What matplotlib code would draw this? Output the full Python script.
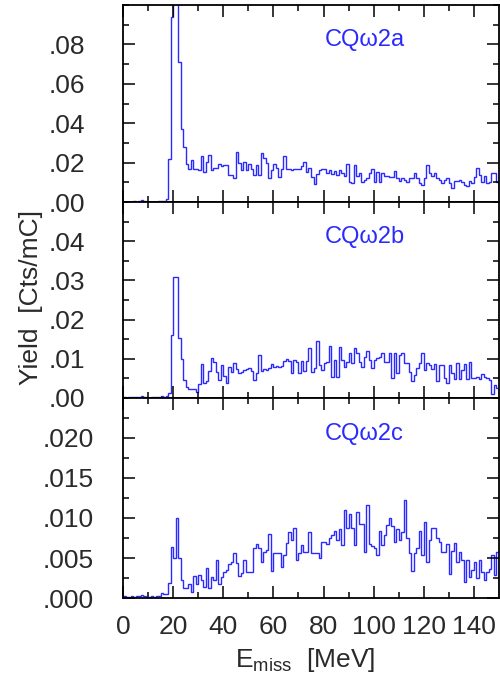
import numpy as np
import matplotlib
matplotlib.use('Agg')
import matplotlib.pyplot as plt

plt.rcParams['font.family'] = ['Liberation Sans', 'DejaVu Sans']
plt.rcParams['mathtext.fontset'] = 'custom'
plt.rcParams['mathtext.rm'] = 'Liberation Sans'

# 1 MeV bins from 0 to 150 MeV
edges = np.arange(0, 151, 1)

yield_a = [
    0.0002, 0.0001, 0.0002, 0.0002, 0.0003, 0.0002, 0.0004, 0.0008, 0.0003, 0.0002,
    0.0002, 0.0001, 0.0002, 0.0002, 0.0003, 0.0004, 0.0005, 0.0013, 0.0220, 0.0940,
    0.1600, 0.1300, 0.0710, 0.0370, 0.0280, 0.0191, 0.0166, 0.0213, 0.0166, 0.0166,
    0.0162, 0.0235, 0.0154, 0.0201, 0.0239, 0.0162, 0.0174, 0.0174, 0.0193, 0.0183,
    0.0188, 0.0188, 0.0137, 0.0137, 0.0124, 0.0254, 0.0196, 0.0162, 0.0205, 0.0162,
    0.0191, 0.0166, 0.0137, 0.0188, 0.0137, 0.0250, 0.0222, 0.0196, 0.0124, 0.0162,
    0.0191, 0.0174, 0.0129, 0.0166, 0.0234, 0.0166, 0.0166, 0.0162, 0.0166, 0.0166,
    0.0166, 0.0183, 0.0205, 0.0154, 0.0174, 0.0129, 0.0090, 0.0141, 0.0162, 0.0166,
    0.0166, 0.0146, 0.0162, 0.0141, 0.0159, 0.0137, 0.0162, 0.0149, 0.0132, 0.0191,
    0.0103, 0.0095, 0.0186, 0.0132, 0.0146, 0.0103, 0.0112, 0.0124, 0.0146, 0.0168,
    0.0103, 0.0152, 0.0103, 0.0149, 0.0132, 0.0132, 0.0129, 0.0129, 0.0159, 0.0120,
    0.0107, 0.0120, 0.0112, 0.0103, 0.0124, 0.0124, 0.0149, 0.0124, 0.0095, 0.0086,
    0.0124, 0.0189, 0.0149, 0.0132, 0.0146, 0.0120, 0.0112, 0.0095, 0.0112, 0.0124,
    0.0095, 0.0069, 0.0107, 0.0107, 0.0112, 0.0103, 0.0086, 0.0081, 0.0107, 0.0098,
    0.0129, 0.0174, 0.0137, 0.0103, 0.0132, 0.0095, 0.0103, 0.0146, 0.0146, 0.0103,
]

yield_b = [
    0.0002, 0.0001, 0.0002, 0.0002, 0.0002, 0.0002, 0.0003, 0.0006, 0.0003, 0.0002,
    0.0001, 0.0002, 0.0002, 0.0002, 0.0003, 0.0004, 0.0003, 0.0006, 0.0012, 0.0161,
    0.0308, 0.0308, 0.0152, 0.0099, 0.0046, 0.0027, 0.0024, 0.0024, 0.0022, 0.0016,
    0.0036, 0.0086, 0.0037, 0.0043, 0.0070, 0.0103, 0.0093, 0.0067, 0.0046, 0.0084,
    0.0057, 0.0039, 0.0078, 0.0067, 0.0090, 0.0073, 0.0063, 0.0067, 0.0071, 0.0073,
    0.0076, 0.0069, 0.0046, 0.0065, 0.0110, 0.0070, 0.0073, 0.0071, 0.0076, 0.0087,
    0.0078, 0.0082, 0.0080, 0.0082, 0.0095, 0.0099, 0.0095, 0.0065, 0.0097, 0.0093,
    0.0065, 0.0095, 0.0069, 0.0095, 0.0127, 0.0067, 0.0076, 0.0145, 0.0084, 0.0071,
    0.0088, 0.0093, 0.0133, 0.0054, 0.0097, 0.0054, 0.0129, 0.0097, 0.0080, 0.0093,
    0.0114, 0.0090, 0.0127, 0.0114, 0.0093, 0.0078, 0.0105, 0.0120, 0.0097, 0.0076,
    0.0097, 0.0101, 0.0105, 0.0114, 0.0093, 0.0093, 0.0114, 0.0050, 0.0114, 0.0063,
    0.0110, 0.0116, 0.0090, 0.0090, 0.0067, 0.0044, 0.0059, 0.0076, 0.0090, 0.0116,
    0.0071, 0.0088, 0.0084, 0.0073, 0.0086, 0.0044, 0.0084, 0.0084, 0.0050, 0.0039,
    0.0084, 0.0065, 0.0048, 0.0088, 0.0048, 0.0071, 0.0087, 0.0048, 0.0093, 0.0050,
    0.0050, 0.0053, 0.0048, 0.0061, 0.0053, 0.0050, 0.0046, 0.0010, 0.0033, 0.0025,
]

yield_c = [
    0.0002, 0.0001, 0.0001, 0.0002, 0.0001, 0.0002, 0.0002, 0.0004, 0.0002, 0.0001,
    0.0001, 0.0002, 0.0001, 0.0002, 0.0002, 0.0006, 0.0005, 0.0005, 0.0019, 0.0064,
    0.0050, 0.0100, 0.0050, 0.0023, 0.0012, 0.0012, 0.0018, 0.0007, 0.0027, 0.0018,
    0.0029, 0.0023, 0.0014, 0.0037, 0.0012, 0.0026, 0.0023, 0.0047, 0.0018, 0.0026,
    0.0032, 0.0035, 0.0043, 0.0045, 0.0056, 0.0044, 0.0028, 0.0031, 0.0047, 0.0032,
    0.0032, 0.0032, 0.0062, 0.0068, 0.0063, 0.0045, 0.0057, 0.0060, 0.0080, 0.0034,
    0.0056, 0.0056, 0.0056, 0.0039, 0.0054, 0.0069, 0.0083, 0.0073, 0.0088, 0.0048,
    0.0056, 0.0066, 0.0058, 0.0057, 0.0083, 0.0056, 0.0056, 0.0056, 0.0050, 0.0070,
    0.0070, 0.0068, 0.0075, 0.0079, 0.0084, 0.0073, 0.0086, 0.0066, 0.0110, 0.0088,
    0.0105, 0.0088, 0.0066, 0.0107, 0.0093, 0.0093, 0.0058, 0.0116, 0.0068, 0.0065,
    0.0062, 0.0054, 0.0084, 0.0066, 0.0079, 0.0091, 0.0100, 0.0090, 0.0070, 0.0086,
    0.0072, 0.0083, 0.0122, 0.0075, 0.0056, 0.0034, 0.0056, 0.0063, 0.0084, 0.0054,
    0.0095, 0.0045, 0.0073, 0.0087, 0.0087, 0.0075, 0.0070, 0.0058, 0.0058, 0.0068,
    0.0030, 0.0059, 0.0069, 0.0045, 0.0058, 0.0047, 0.0020, 0.0048, 0.0026, 0.0035,
    0.0045, 0.0025, 0.0047, 0.0033, 0.0023, 0.0033, 0.0036, 0.0054, 0.0029, 0.0058,
]

labels = ['CQ\u03c92a', 'CQ\u03c92b', 'CQ\u03c92c']
ymax = [0.1, 0.05, 0.025]
ymajor = [[0, 0.02, 0.04, 0.06, 0.08], [0, 0.01, 0.02, 0.03, 0.04],
          [0, 0.005, 0.010, 0.015, 0.020]]
ylabels = [['.00', '.02', '.04', '.06', '.08'], ['.00', '.01', '.02', '.03', '.04'],
           ['.000', '.005', '.010', '.015', '.020']]
yminor_step = [0.01, 0.005, 0.0025]
xticks = [0, 20, 40, 60, 80, 100, 120, 140]

data = [yield_a, yield_b, yield_c]
# panel extents in figure fraction (bottom, height)
boxes = [(0.7051, 0.2876), (0.419, 0.2861), (0.127, 0.292)]

fig = plt.figure(figsize=(5, 6.85), dpi=100)
txtc = '#2a2a2a'
blue = '#2a2aff'

for i in range(3):
    b, h = boxes[i]
    ax = fig.add_axes([0.246, b, 0.752, h])
    ax.stairs(data[i], edges, color=blue, lw=1.0)
    ax.set_xlim(0, 150)
    ax.set_ylim(0, ymax[i])
    ax.set_xticks(xticks)
    ax.set_xticks(np.arange(10, 150, 20), minor=True)
    ax.set_yticks(ymajor[i])
    ax.set_yticklabels(ylabels[i])
    ax.set_yticks(np.arange(0, ymax[i] + 1e-9, yminor_step[i]), minor=True)
    ax.tick_params(which='both', direction='in', top=True, right=True,
                   width=1.1, color='black', labelcolor=txtc, labelsize=19)
    ax.tick_params(which='major', length=8.5)
    ax.tick_params(which='minor', length=4.3)
    ax.tick_params(axis='y', pad=27 if i < 2 else 21)
    ax.tick_params(axis='x', pad=12)
    if i < 2:
        ax.tick_params(axis='x', labelbottom=False)
    for s in ax.spines.values():
        s.set_linewidth(1.3)
    ax.text(0.642, 0.82, labels[i], transform=ax.transAxes, color=blue,
            fontsize=17, ha='center', va='center')

fig.text(0.062, 0.565, 'Yield  [Cts/mC]', rotation=90, ha='center', va='center',
         fontsize=19, color=txtc)
fig.text(0.61, 0.036, r'E$_{\mathrm{miss}}$  [MeV]', ha='center', va='center',
         fontsize=19, color=txtc)

fig.savefig('out.png', dpi=100)
